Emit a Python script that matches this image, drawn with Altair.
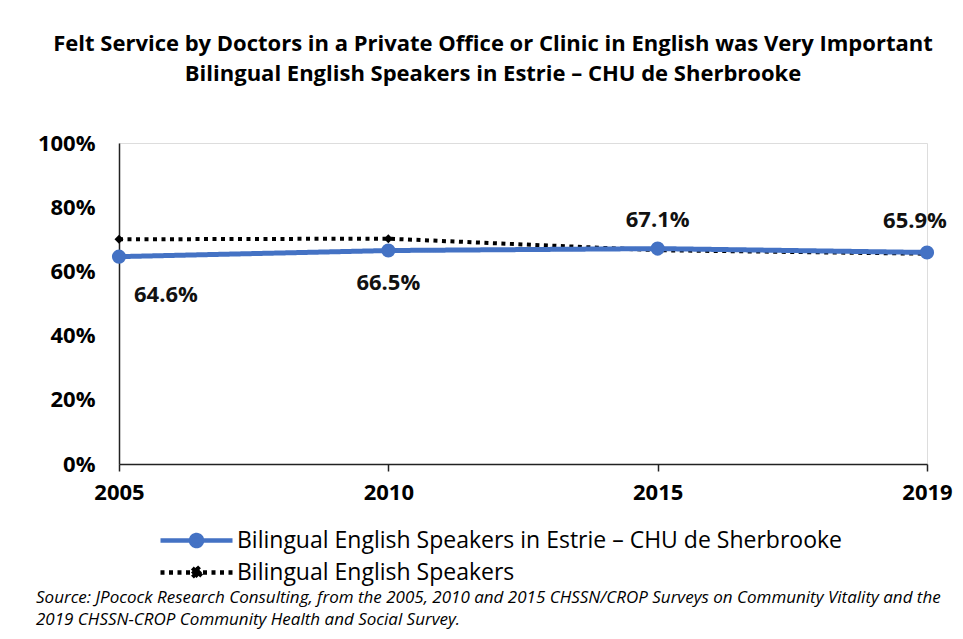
import altair as alt
import pandas as pd

# ---------------- data ----------------
years = ["2005", "2010", "2015", "2019"]
estrie_values = [0.646, 0.665, 0.671, 0.659]
estrie_labels = ["64.6%", "66.5%", "67.1%", "65.9%"]
bilingual_values = [0.700, 0.702, 0.666, 0.655]
series_names = [
    "Bilingual English Speakers in Estrie – CHU de Sherbrooke",
    "Bilingual English Speakers",
]
y_tick_values = [0.0, 0.2, 0.4, 0.6, 0.8, 1.0]
title_lines = [
    "Felt Service by Doctors in a Private Office or Clinic in English was Very Important",
    "Bilingual English Speakers in Estrie – CHU de Sherbrooke",
]
source_lines = [
    "Source: JPocock Research Consulting, from the 2005, 2010  and 2015  CHSSN/CROP Surveys on Community Vitality and the",
    "2019  CHSSN-CROP Community Health and Social Survey.",
]

BLUE = "#4472C4"
FONT = "Open Sans"

rows = []
for yr, v, lab in zip(years, estrie_values, estrie_labels):
    rows.append({"year": yr, "value": v, "series": series_names[0], "key": "estrie", "label": lab})
for yr, v in zip(years, bilingual_values):
    rows.append({"year": yr, "value": v, "series": series_names[1], "key": "bilingual", "label": ""})
df = pd.DataFrame(rows)

# ---------------- encodings ----------------
x_enc = alt.X(
    "year:N",
    sort=years,
    scale=alt.Scale(type="point", domain=years, padding=0),
    axis=alt.Axis(
        title=None, labelAngle=0, labelFont=FONT, labelFontSize=22,
        labelFontWeight="bold", labelColor="#000", labelPadding=11,
        tickSize=7, tickColor="#222", tickWidth=1.5,
        domainColor="#222", domainWidth=1.5, grid=False,
    ),
)
y_enc = alt.Y(
    "value:Q",
    scale=alt.Scale(domain=[0, 1], nice=False),
    axis=alt.Axis(
        title=None, values=y_tick_values, format=".0%", ticks=False, grid=False,
        labelFont=FONT, labelFontSize=22, labelFontWeight="bold", labelColor="#000",
        labelPadding=24, domainColor="#222", domainWidth=1.5,
    ),
)

color_scale = alt.Scale(domain=series_names, range=[BLUE, "black"])
dash_scale = alt.Scale(domain=series_names, range=[[1, 0], [4, 4.5]])

base = alt.Chart(df)

dotted_line = base.transform_filter("datum.key == 'bilingual'").mark_line(strokeWidth=4).encode(
    x=x_enc, y=y_enc,
    color=alt.Color("series:N", scale=color_scale, legend=None),
    strokeDash=alt.StrokeDash("series:N", scale=dash_scale, legend=None),
)
diamonds = base.transform_filter("datum.key == 'bilingual'").mark_point(
    shape="diamond", filled=True, size=80, opacity=1
).encode(
    x=x_enc, y=y_enc,
    color=alt.Color("series:N", scale=color_scale, legend=None),
)
blue_line = base.transform_filter("datum.key == 'estrie'").mark_line(strokeWidth=5).encode(
    x=x_enc, y=y_enc,
    color=alt.Color("series:N", scale=color_scale, legend=None),
    strokeDash=alt.StrokeDash("series:N", scale=dash_scale, legend=None),
)
circles = base.transform_filter("datum.key == 'estrie'").mark_point(
    shape="circle", filled=True, size=200, opacity=1
).encode(
    x=x_enc, y=y_enc,
    color=alt.Color("series:N", scale=color_scale, legend=None),
)

# value labels
label_layers = []
label_style = {
    "2005": dict(dx=15, dy=38, align="left"),
    "2010": dict(dx=0, dy=32, align="center"),
    "2015": dict(dx=0, dy=-29, align="center"),
    "2019": dict(dx=-12, dy=-31, align="center"),
}
for yr in years:
    st = label_style[yr]
    label_layers.append(
        base.transform_filter(f"datum.key == 'estrie' && datum.year == '{yr}'").mark_text(
            font=FONT, fontSize=22, fontWeight="bold", color="#111", baseline="middle", **st
        ).encode(x=x_enc, y=y_enc, text="label:N")
    )

# legend (drawn by Vega's legend from the series scales)
legend_path_line_circle = "M-3.6,0H3.6M0.55,0A0.55,0.55,0,1,1,-0.55,0A0.55,0.55,0,1,1,0.55,0Z"
legend_path_line_diamond = "M-3.6,0H3.6M0,-0.55L0.55,0L0,0.55L-0.55,0Z"
legend_cfg = dict(
    title=None, orient="none", legendX=65, legendY=385, direction="vertical",
    symbolSize=400, symbolStrokeWidth=4.5, labelFont=FONT, labelFontSize=23,
    labelColor="#000", labelOffset=28, rowPadding=3, padding=0, labelLimit=0,
)
legend_layer = base.transform_filter("datum.value < 0").mark_point(filled=True, opacity=1).encode(
    x=x_enc, y=y_enc,
    color=alt.Color("series:N", scale=color_scale, legend=alt.Legend(**legend_cfg)),
    stroke=alt.Stroke("series:N", scale=alt.Scale(domain=series_names, range=[BLUE, "black"]),
                      legend=alt.Legend(**legend_cfg)),
    shape=alt.Shape("series:N", scale=alt.Scale(domain=series_names,
                                                range=[legend_path_line_circle, legend_path_line_diamond]),
                    legend=alt.Legend(**legend_cfg)),
    strokeDash=alt.StrokeDash("series:N", scale=dash_scale, legend=alt.Legend(**legend_cfg)),
)

source = alt.Chart(pd.DataFrame({"k": [0]})).mark_text(
    align="left", baseline="middle", font=FONT, fontStyle="italic", fontSize=17,
    lineHeight=22, color="#000",
).encode(x=alt.value(-83), y=alt.value(455), text=alt.value(source_lines))

chart = alt.layer(
    dotted_line, diamonds, blue_line, circles, *label_layers, legend_layer, source
).resolve_legend(
    color="independent", strokeDash="independent", stroke="independent", shape="independent"
).properties(
    width=808,
    height=321,
    autosize=alt.AutoSizeParams(type="none"),
    padding={"left": 111, "top": 135, "right": 28, "bottom": 167},
    title=alt.Title(
        text=title_lines, font=FONT, fontSize=22, fontWeight="bold", color="#000",
        anchor="middle", dx=-30, offset=46, lineHeight=30,
    ),
).configure_view(stroke=None).configure(background="white")

chart.save("out.html", embed_options={"renderer": "svg", "actions": False})
